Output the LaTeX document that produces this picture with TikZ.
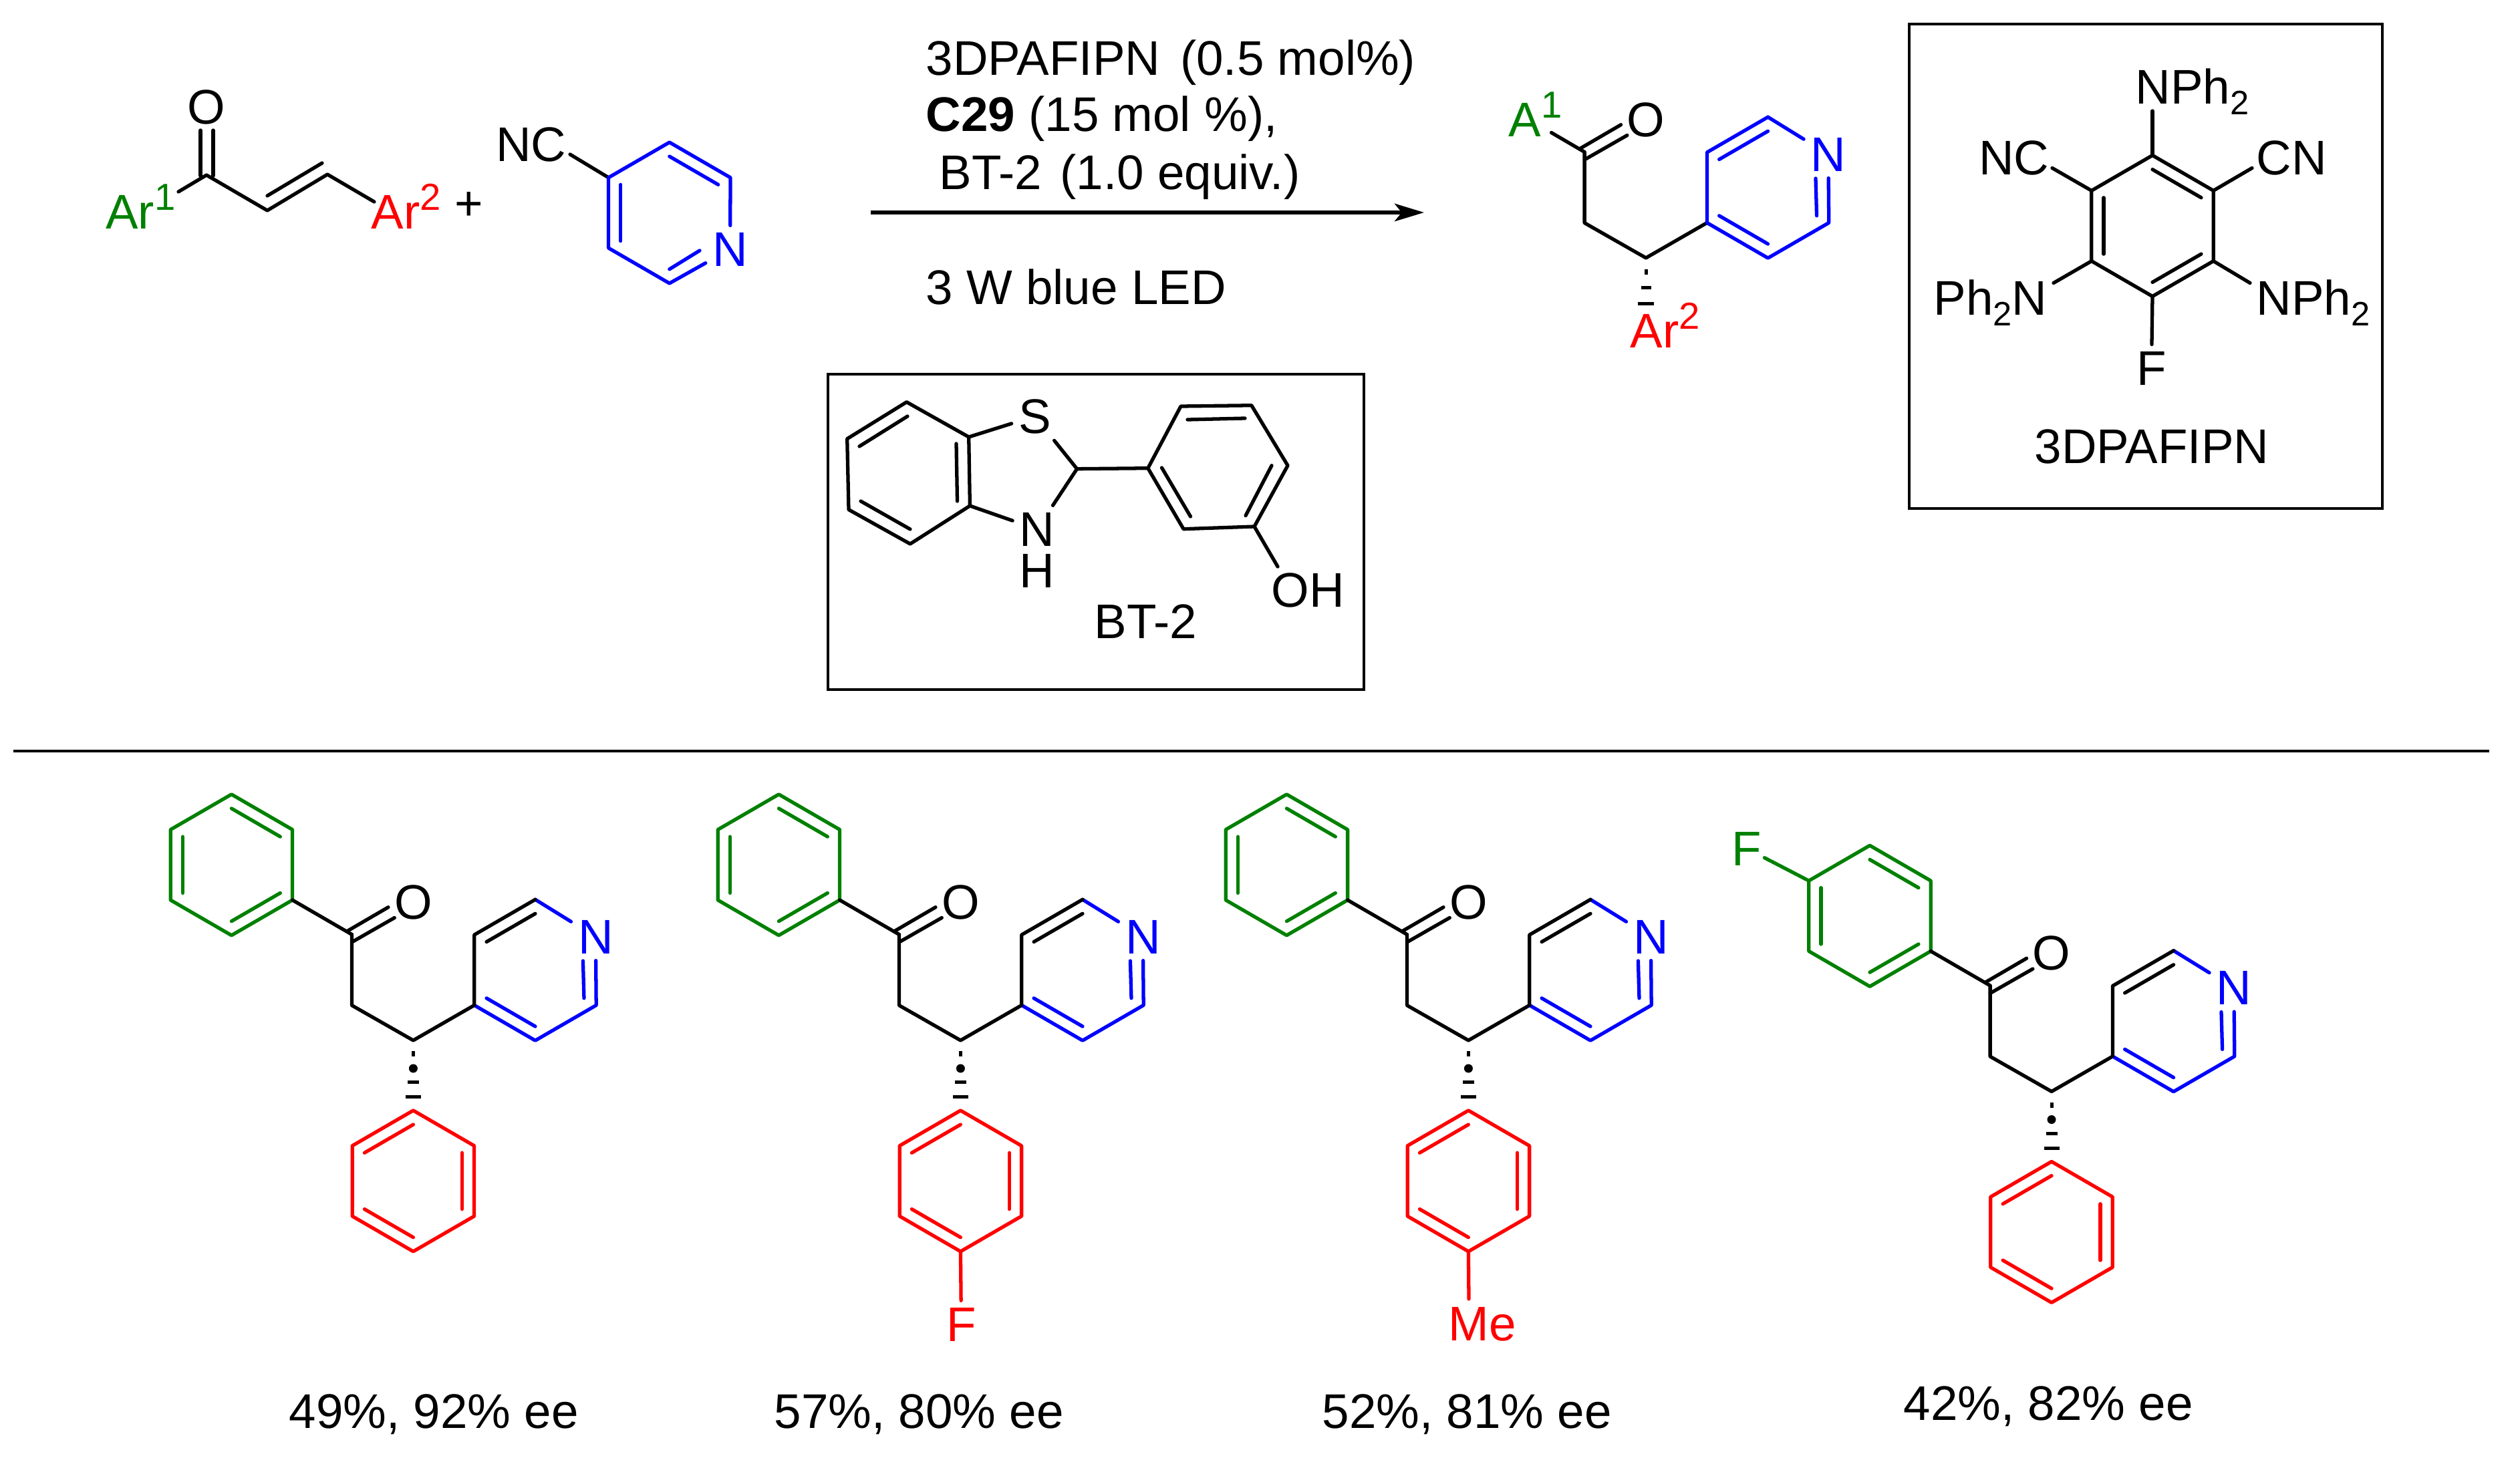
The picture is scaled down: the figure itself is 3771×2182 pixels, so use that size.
\documentclass[tikz,border=0pt]{standalone}
\usepackage{fontspec}
\setmainfont{Liberation Sans}
\usetikzlibrary{arrows.meta,calc}

\definecolor{argreen}{HTML}{008000}
\definecolor{arred}{HTML}{FF0000}
\definecolor{pyblue}{HTML}{0000FF}

\newcommand{\chemfont}{\fontsize{20.7}{24}\selectfont}
\newcommand{\supnum}[1]{\raisebox{8pt}{\fontsize{16}{16}\selectfont #1}}
\newcommand{\subnum}[1]{\raisebox{-4.3pt}{\fontsize{14.4}{14}\selectfont #1}}

\tikzset{
	bond/.style={line width=1.5pt,line cap=round,line join=round},
	atom/.style={inner sep=2.8pt,font=\chemfont},
	chemtext/.style={inner sep=0pt,anchor=base west,font=\chemfont},
	framebox/.style={draw,line width=1.2pt}
}

\newcommand{\hexring}[3]{
	\coordinate (#1c)  at (#2,#3);
	\coordinate (#1t)  at (#2,#3-105.5);
	\coordinate (#1ur) at (#2+91.2,#3-52.7);
	\coordinate (#1lr) at (#2+91.2,#3+52.7);
	\coordinate (#1b)  at (#2,#3+105.5);
	\coordinate (#1ll) at (#2-91.2,#3+52.7);
	\coordinate (#1ul) at (#2-91.2,#3-52.7);
}
\newcommand{\ringbonds}[2]{
	\draw[bond,#1] (#2t) -- (#2ur) -- (#2lr) -- (#2b) -- (#2ll) -- (#2ul) -- cycle;
}
\newcommand{\innerbond}[4]{
	\draw[bond,#1] ($(#2#3)!.2!(#2c)$) -- ($(#2#4)!.2!(#2c)$);
}
\newcommand{\hashbar}[4]{
	\fill (#1) ++(-#3/2,#2) rectangle ++(#3,#4);
}
\newcommand{\pyridylketone}[4]{
	\begin{scope}[shift={(#2,#3)}]
		\hexring{#1p}{801}{1451.7}
		\coordinate (#1co) at (526.5,1398.5);
		\coordinate (#1ct) at (526.5,1504.6);
		\coordinate (#1ch) at (618.4,1557);
		\coordinate (#1oa) at (518.9,1393.9);
		\coordinate (#1ob) at (581,1357.7);
		\coordinate (#1oc) at (526.5,1410);
		\coordinate (#1od) at (590.3,1373.5);
		\coordinate (#1ni) at (872.4,1438);
		\node[atom] (#1o) at (618.4,1350) {O};
		\node[atom,text=pyblue] (#1n) at (891.3,1402) {N};
	\end{scope}
	\draw[bond] (#1co) -- (#1ct) -- (#1ch) -- (#1pll);
	\draw[bond] (#1oa) -- (#1ob);
	\draw[bond] (#1oc) -- (#1od);
	\draw[bond,pyblue] (#1pt) -- (#1n);
	\draw[bond,pyblue] (#1n) -- (#1plr) -- (#1pb) -- (#1pll);
	\draw[bond,#4] (#1pll) -- (#1pul) -- (#1pt);
	\innerbond{#4}{#1p}{ul}{t}
	\innerbond{pyblue}{#1p}{ll}{b}
	\draw[bond,pyblue] (#1ni) -- ($(#1plr)!.2!(#1pc)$);
}
\newcommand{\arylrings}[3]{
	\begin{scope}[shift={(#2,#3)}]
		\hexring{#1g}{346.4}{1294.3}
		\hexring{#1r}{618.4}{1767.4}
	\end{scope}
	\ringbonds{argreen}{#1g}
	\innerbond{argreen}{#1g}{t}{ur}
	\innerbond{argreen}{#1g}{ul}{ll}
	\innerbond{argreen}{#1g}{lr}{b}
	\ringbonds{arred}{#1r}
	\innerbond{arred}{#1r}{ul}{t}
	\innerbond{arred}{#1r}{ur}{lr}
	\innerbond{arred}{#1r}{ll}{b}
	\draw[bond] (#1glr) -- (#1co);
	\hashbar{#1ch}{16}{5}{8}
	\fill (#1ch) ++(0,42) circle (6.5);
	\hashbar{#1ch}{60}{17}{5}
	\hashbar{#1ch}{82}{23}{5}
}

\begin{document}
\begin{tikzpicture}[x=0.01cm,y=-0.01cm]
	\useasboundingbox (0,0) rectangle (3771,2182);

	% enone
	\coordinate (eco) at (309,262);
	\coordinate (eva) at (400,315);
	\coordinate (evb) at (490,261);
	\coordinate (eaa) at (267,287);
	\coordinate (eab) at (560,302);
	\coordinate (eia) at (400,293);
	\coordinate (eib) at (482,244);
	\coordinate (eoa) at (300,263);
	\coordinate (eob) at (300,195);
	\coordinate (eoc) at (319,263);
	\coordinate (eod) at (319,195);
	\node[atom] (eo) at (309,160) {O};
	\node[chemtext,text=argreen] (ara) at (157.5,343) {Ar\supnum{1}};
	\node[chemtext,text=arred] (arb) at (555,343) {Ar\supnum{2}};
	\node[atom,inner sep=0pt] (plus) at (702,308) {+};
	\draw[bond] (eaa) -- (eco) -- (eva) -- (evb) -- (eab);
	\draw[bond] (eia) -- (eib);
	\draw[bond] (eoa) -- (eob);
	\draw[bond] (eoc) -- (eod);

	% cyanopyridine
	\hexring{cy}{1001.8}{318.5}
	\coordinate (cyi) at (1047,375);
	\coordinate (cye) at (853,231);
	\node[chemtext] (nc) at (741.5,242) {NC};
	\node[atom,text=pyblue] (cyn) at (1092.6,373) {N};
	\draw[bond] (cye) -- (cyul);
	\draw[bond,pyblue] (cyn) -- (cyb) -- (cyll) -- (cyul) -- (cyt) -- (cyur) -- (cyn);
	\innerbond{pyblue}{cy}{t}{ur}
	\innerbond{pyblue}{cy}{ul}{ll}
	\draw[bond,pyblue] (cyi) -- ($(cyb)!.2!(cyc)$);

	% conditions
	\coordinate (ra) at (1303,318);
	\coordinate (rb) at (2131,318);
	\draw[-{Stealth[length=12.5pt,width=7.5pt,inset=3pt]},line width=1.6pt] (ra) -- (rb);
	\node[chemtext] (cona) at (1385,113) {3DPAFIPN\hspace{2.8pt} (0.5 mol\%)};
	\node[chemtext] (conb) at (1385,197) {\textbf{C29} (15 mol \%),};
	\node[chemtext] (conc) at (1405,284) {BT-2\hspace{2pt} (1.0 equiv.)};
	\node[chemtext] (cond) at (1385,456) {3 W blue LED};

	% product of the scheme
	\pyridylketone{tp}{1844.6}{-1171}{pyblue}
	\coordinate (tpa) at (2321.5,198.5);
	\node[chemtext,text=argreen] (tpar) at (2257,205) {A\supnum{1}};
	\node[chemtext,text=arred] (tpbr) at (2439,521) {Ar\supnum{2}};
	\draw[bond] (tpa) -- (tpco);
	\hashbar{tpch}{17}{5}{8}
	\hashbar{tpch}{42}{15}{5}
	\hashbar{tpch}{66}{24}{5}

	% 3DPAFIPN
	\draw[framebox] (2857,36) rectangle (3565,761);
	\hexring{dp}{3221}{338}
	\ringbonds{black}{dp}
	\innerbond{black}{dp}{t}{ur}
	\innerbond{black}{dp}{ul}{ll}
	\innerbond{black}{dp}{lr}{b}
	\coordinate (sna) at (3221,166);
	\coordinate (snb) at (3071,251.5);
	\coordinate (snc) at (3370,251.5);
	\coordinate (snd) at (3073,423.5);
	\coordinate (sne) at (3367,423.5);
	\node[chemtext] (dptop) at (3195,156) {NPh\subnum{2}};
	\node[chemtext] (dpnc) at (2960.5,262) {NC};
	\node[chemtext] (dpcn) at (3376,262) {CN};
	\node[chemtext] (dpl) at (2893,472) {Ph\subnum{2}N};
	\node[chemtext] (dpr) at (3376,472) {NPh\subnum{2}};
	\node[atom] (dpfl) at (3219.5,551) {F};
	\node[chemtext] (dpname) at (3044,694) {3DPAFIPN};
	\draw[bond] (dpt) -- (sna);
	\draw[bond] (dpul) -- (snb);
	\draw[bond] (dpur) -- (snc);
	\draw[bond] (dpll) -- (snd);
	\draw[bond] (dplr) -- (sne);
	\draw[bond] (dpb) -- (dpfl);

	% BT-2
	\draw[framebox] (1239,560) rectangle (2041,1032);
	\coordinate (bta) at (1356.7,601.7);
	\coordinate (btb) at (1449.7,654);
	\coordinate (btc) at (1451.4,757);
	\coordinate (btd) at (1362,814);
	\coordinate (bte) at (1270,762.7);
	\coordinate (btf) at (1267.7,656.7);
	\coordinate (btg) at (1611.6,701.7);
	\coordinate (arc) at (1717.8,700.7);
	\coordinate (ard) at (1767,608);
	\coordinate (are) at (1872.8,606.7);
	\coordinate (arf) at (1927,696.7);
	\coordinate (arg) at (1877,788);
	\coordinate (arh) at (1771,791.7);
	\coordinate (ohe) at (1912,848);
	\node[atom] (bts) at (1548.5,623) {S};
	\node[atom] (btn) at (1552,792) {N};
	\node[atom] (bth) at (1552,854) {H};
	\node[chemtext] (oh) at (1902,908) {OH};
	\node[chemtext] (btname) at (1637,955) {BT-2};
	\draw[bond] (bta) -- (btb) -- (btc) -- (btd) -- (bte) -- (btf) -- cycle;
	\draw[bond] (1358,623) -- (1286,668);
	\draw[bond] (1431,664) -- (1432.5,750);
	\draw[bond] (1288,750) -- (1362,792);
	\draw[bond] (btb) -- (bts) -- (btg) -- (btn) -- (btc);
	\draw[bond] (btg) -- (arc);
	\draw[bond] (arc) -- (ard) -- (are) -- (arf) -- (arg) -- (arh) -- cycle;
	\draw[bond] (1777,628) -- (1863,626);
	\draw[bond] (1903,696.7) -- (1864,771.7);
	\draw[bond] (1738.5,700) -- (1781.5,773);
	\draw[bond] (arg) -- (ohe);

	\coordinate (sa) at (20,1124);
	\coordinate (sb) at (3725,1124);
	\draw[line width=1.4pt] (sa) -- (sb);

	% scope of the reaction
	\pyridylketone{pa}{0}{0}{black}
	\arylrings{pa}{0}{0}
	\pyridylketone{pb}{819}{0}{black}
	\arylrings{pb}{819}{0}
	\pyridylketone{pc}{1579}{0}{black}
	\arylrings{pc}{1579}{0}
	\pyridylketone{pd}{2451.6}{76.5}{black}
	\arylrings{pd}{2451.6}{76.5}

	\node[atom,text=arred] (pbf) at (1438.5,1982) {F};
	\draw[bond,arred] (pbrb) -- (pbf);
	\coordinate (pce) at (2198,1944);
	\node[chemtext,text=arred] (pcme) at (2167,2006.5) {Me};
	\draw[bond,arred] (pcrb) -- (pce);
	\node[atom,inner sep=1pt,text=argreen] (pdf) at (2614,1270) {F};
	\draw[bond,argreen] (pdgul) -- (pdf);

	\node[chemtext] (ya) at (432,2137) {49\%, 92\% ee};
	\node[chemtext] (yb) at (1158,2137) {57\%, 80\% ee};
	\node[chemtext] (yc) at (1978,2137) {52\%, 81\% ee};
	\node[chemtext] (yd) at (2848,2125) {42\%, 82\% ee};
\end{tikzpicture}
\end{document}
